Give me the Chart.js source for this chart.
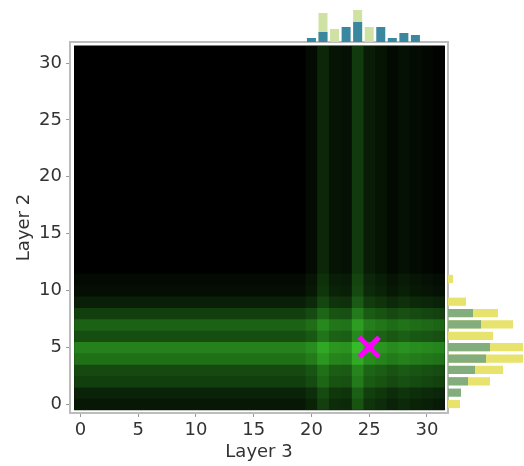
<!DOCTYPE html>
<html>
<head>
<meta charset="utf-8">
<script src="https://cdn.jsdelivr.net/npm/chart.js@4.4.1/dist/chart.umd.min.js"></script>
<style>
  html, body { margin: 0; padding: 0; background: #fff; }
  #wrap { position: relative; width: 524px; height: 466px; }
  canvas { position: absolute; }
</style>
</head>
<body>
<div id="wrap">
  <canvas id="main" width="524" height="466" style="left:0;top:0"></canvas>
  <canvas id="top" width="524" height="42" style="left:0;top:0"></canvas>
  <canvas id="right" width="76" height="466" style="left:448px;top:0"></canvas>
</div>
<script>
// grid indices (0..31) on both axes
const cells = Array.from({ length: 32 }, (_, i) => i);

// green level of each horizontal band (Layer 2 rows) and vertical band (Layer 3 columns)
const rowLevels = [0.17, 0.25, 0.45, 0.52, 0.8, 0.92, 0.55, 0.7, 0.45, 0.22, 0.1, 0.07,
  0, 0, 0, 0, 0, 0, 0, 0, 0, 0, 0, 0, 0, 0, 0, 0, 0, 0, 0, 0];
const colLevels = [0, 0, 0, 0, 0, 0, 0, 0, 0, 0, 0, 0, 0, 0, 0, 0, 0, 0, 0, 0,
  0.08, 0.28, 0.14, 0.12, 0.42, 0.2, 0.14, 0.07, 0.12, 0.08, 0.05, 0.02];

// marginal histograms (top: per column, right: per row)
const topTeal = [0, 0, 0, 0, 0, 0, 0, 0, 0, 0, 0, 0, 0, 0, 0, 0, 0, 0, 0, 0,
  4, 10, 0, 15, 20, 0, 15, 4, 9, 7, 0, 0];
const topPale = [0, 0, 0, 0, 0, 0, 0, 0, 0, 0, 0, 0, 0, 0, 0, 0, 0, 0, 0, 0,
  0, 29, 13, 0, 32, 15, 0, 0, 0, 0, 0, 0];
const rightSage = [0, 13, 20, 27, 38, 42, 0, 33, 25, 0, 0, 0,
  0, 0, 0, 0, 0, 0, 0, 0, 0, 0, 0, 0, 0, 0, 0, 0, 0, 0, 0, 0];
const rightYellow = [12, 0, 42, 55, 75, 75, 45, 65, 50, 18, 0, 5,
  0, 0, 0, 0, 0, 0, 0, 0, 0, 0, 0, 0, 0, 0, 0, 0, 0, 0, 0, 0];

// selected point
const markX = [25];
const markY = [5];

const xTicks = [0, 5, 10, 15, 20, 25, 30];
const yTicks = [0, 5, 10, 15, 20, 25, 30];

const X_MIN = -0.9, X_MAX = 31.82;
const Y_MIN = -0.79, Y_MAX = 31.85;

function green(l) {
  return `rgb(${Math.round(40 * l)}, ${Math.round(140 * l)}, ${Math.round(30 * l)})`;
}

const FONT = { family: 'DejaVu Sans', size: 18 };
const TXT = '#333';

const blendPlugin = {
  id: 'blend',
  beforeDatasetDraw(chart, args) {
    if (chart.data.datasets[args.index].blend) {
      chart.ctx.save();
      chart.ctx.globalCompositeOperation = 'lighter';
    }
  },
  afterDatasetDraw(chart, args) {
    if (chart.data.datasets[args.index].blend) chart.ctx.restore();
  }
};

const framePlugin = {
  id: 'frame',
  afterDatasetsDraw(chart) {
    const { ctx, chartArea: a } = chart;
    ctx.save();
    ctx.strokeStyle = '#bcbcbc';
    ctx.lineWidth = 2;
    ctx.strokeRect(a.left, a.top, a.right - a.left, a.bottom - a.top);
    ctx.restore();
  }
};

new Chart(document.getElementById('main'), {
  type: 'bar',
  data: {
    datasets: [
      {
        type: 'scatter',
        data: markX.map((x, i) => ({ x: x, y: markY[i] })),
        pointStyle: 'crossRot',
        radius: 14,
        borderWidth: 5,
        borderColor: '#ff00ff',
        backgroundColor: '#ff00ff',
        order: 1
      },
      {
        // vertical bands, added on top of the rows
        blend: true,
        indexAxis: 'x',
        xAxisID: 'x',
        yAxisID: 'y',
        data: cells.map(c => ({ x: c, y: [-0.5, 31.5] })),
        backgroundColor: colLevels.map(green),
        grouped: false,
        barPercentage: 1,
        categoryPercentage: 1,
        borderWidth: 0,
        inflateAmount: 0,
        order: 2
      },
      {
        // horizontal bands (also paints the black image)
        indexAxis: 'y',
        xAxisID: 'xr',
        yAxisID: 'yr',
        data: cells.map(r => ({ y: r, x: [-0.5, 31.5] })),
        backgroundColor: rowLevels.map(green),
        grouped: false,
        barPercentage: 1,
        categoryPercentage: 1,
        borderWidth: 0,
        inflateAmount: 0.5,
        order: 3
      }
    ]
  },
  options: {
    responsive: false,
    animation: false,
    layout: { padding: { top: 42, right: 76, left: 0, bottom: 0 } },
    plugins: { legend: { display: false }, tooltip: { enabled: false } },
    scales: {
      x: {
        type: 'linear',
        position: 'bottom',
        offset: false,
        min: X_MIN,
        max: X_MAX,
        afterBuildTicks: s => { s.ticks = xTicks.map(v => ({ value: v })); },
        ticks: { font: FONT, color: TXT, padding: 3, includeBounds: false },
        grid: { offset: false, drawOnChartArea: false, tickLength: 4, color: '#999' },
        border: { display: false },
        title: { display: true, text: 'Layer 3', font: FONT, color: TXT, padding: { top: 0, bottom: 3 } },
        afterFit: s => { s.height = 53; }
      },
      y: {
        type: 'linear',
        position: 'left',
        offset: false,
        min: Y_MIN,
        max: Y_MAX,
        afterBuildTicks: s => { s.ticks = yTicks.map(v => ({ value: v })); },
        ticks: { font: FONT, color: TXT, padding: 4, includeBounds: false },
        grid: { offset: false, drawOnChartArea: false, tickLength: 4, color: '#999' },
        border: { display: false },
        title: { display: true, text: 'Layer 2', font: FONT, color: TXT, padding: { top: 14, bottom: 0 } },
        afterFit: s => { s.width = 70; }
      },
      xr: { type: 'linear', display: false, offset: false, min: X_MIN, max: X_MAX },
      yr: { type: 'linear', display: false, offset: false, min: Y_MIN, max: Y_MAX }
    }
  },
  plugins: [blendPlugin, framePlugin]
});

new Chart(document.getElementById('top'), {
  type: 'bar',
  data: {
    datasets: [
      { data: cells.map(c => ({ x: c, y: topTeal[c] })), backgroundColor: '#3a88a0', order: 1 },
      { data: cells.map(c => ({ x: c, y: topPale[c] })), backgroundColor: '#cfe2a4', order: 2 }
    ]
  },
  options: {
    responsive: false,
    animation: false,
    layout: { padding: { top: 0, right: 76, left: 70, bottom: 0 } },
    plugins: { legend: { display: false }, tooltip: { enabled: false } },
    datasets: { bar: { grouped: false, barPercentage: 0.78, categoryPercentage: 1, borderWidth: 0, inflateAmount: 0 } },
    scales: {
      x: { type: 'linear', display: false, offset: false, min: X_MIN, max: X_MAX },
      y: { type: 'linear', display: false, min: 0, max: 42 }
    }
  }
});

new Chart(document.getElementById('right'), {
  type: 'bar',
  data: {
    datasets: [
      { data: cells.map(r => ({ y: r, x: rightSage[r] })), backgroundColor: '#84ad7e', order: 1 },
      { data: cells.map(r => ({ y: r, x: rightYellow[r] })), backgroundColor: '#e7e36c', order: 2 }
    ]
  },
  options: {
    indexAxis: 'y',
    responsive: false,
    animation: false,
    layout: { padding: { top: 42, right: 0, left: 0, bottom: 53 } },
    plugins: { legend: { display: false }, tooltip: { enabled: false } },
    datasets: { bar: { grouped: false, barPercentage: 0.72, categoryPercentage: 1, borderWidth: 0, inflateAmount: 0 } },
    scales: {
      x: { type: 'linear', display: false, min: 0, max: 76 },
      y: { type: 'linear', display: false, offset: false, min: Y_MIN, max: Y_MAX }
    }
  }
});
</script>
</body>
</html>
